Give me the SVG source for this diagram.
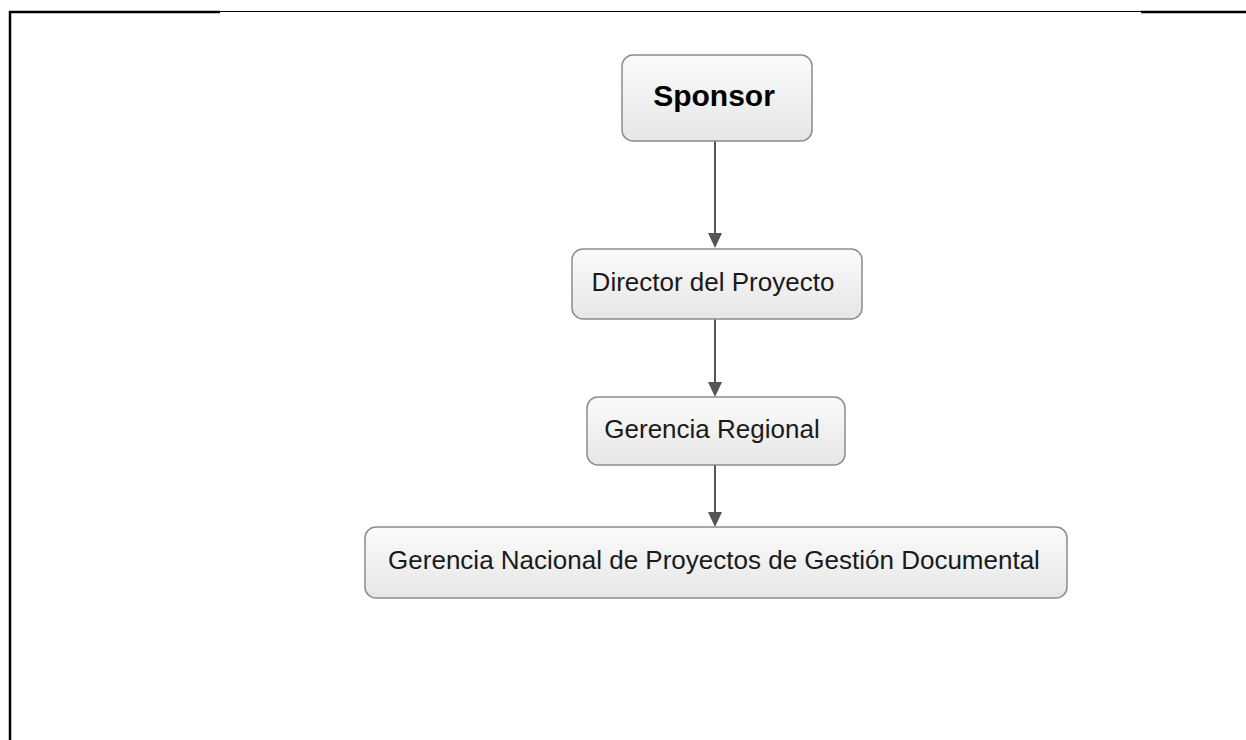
<svg xmlns="http://www.w3.org/2000/svg" width="1246" height="740" viewBox="0 0 1246 740">
  <defs>
    <linearGradient id="boxfill" x1="0" y1="0" x2="0" y2="1">
      <stop offset="0" stop-color="#fbfbfb"/>
      <stop offset="1" stop-color="#e6e6e6"/>
    </linearGradient>
    <style>
      .box { fill: url(#boxfill); stroke: #8c8c8c; stroke-width: 1.5; }
      .lbl { font-family: "Liberation Sans", Arial, sans-serif; font-size: 26px; fill: #1a1a1a; text-anchor: middle; }
      .title { font-weight: bold; font-size: 30px; fill: #000; }
      .conn { stroke: #555555; stroke-width: 2; fill: none; }
      .head { fill: #555555; }
      .frame { stroke: #000; fill: none; }
    </style>
  </defs>
  <rect width="1246" height="740" fill="#ffffff"/>
  <g id="frame">
    <line class="frame" x1="9" y1="12" x2="220" y2="12" stroke-width="2.5"/>
    <line class="frame" x1="220" y1="11.5" x2="1141" y2="11.5" stroke-width="1"/>
    <line class="frame" x1="1141" y1="12" x2="1246" y2="12" stroke-width="2.5"/>
    <line class="frame" x1="10" y1="11" x2="10" y2="740" stroke-width="2.5"/>
  </g>
  <g id="connectors">
    <line class="conn" x1="715" y1="141" x2="715" y2="234"/>
    <path class="head" d="M708,233 L722,233 L715,248 Z"/>
    <line class="conn" x1="715" y1="319" x2="715" y2="383"/>
    <path class="head" d="M708,382 L722,382 L715,397 Z"/>
    <line class="conn" x1="715" y1="465" x2="715" y2="513"/>
    <path class="head" d="M708,512 L722,512 L715,527 Z"/>
  </g>
  <g id="sponsor">
    <rect class="box" x="622" y="55" width="190" height="86" rx="11"/>
    <text class="lbl title" x="714" y="106">Sponsor</text>
  </g>
  <g id="director">
    <rect class="box" x="572" y="249" width="290" height="70" rx="11"/>
    <text class="lbl" x="713" y="291">Director del Proyecto</text>
  </g>
  <g id="gerencia-regional">
    <rect class="box" x="587" y="397" width="258" height="68" rx="11"/>
    <text class="lbl" x="712" y="438">Gerencia Regional</text>
  </g>
  <g id="gerencia-nacional">
    <rect class="box" x="365" y="527" width="702" height="71" rx="11"/>
    <text class="lbl" x="714" y="569">Gerencia Nacional de Proyectos de Gestión Documental</text>
  </g>
</svg>
